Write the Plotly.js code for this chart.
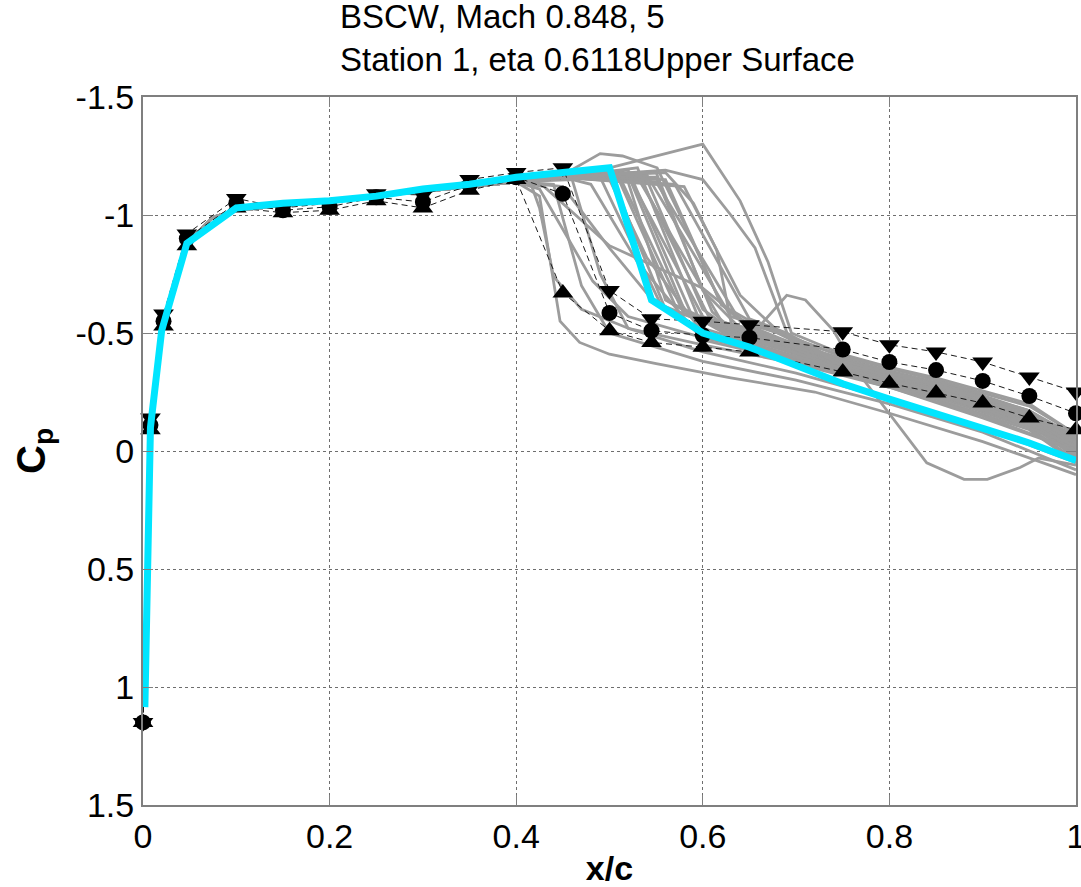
<!DOCTYPE html>
<html>
<head>
<meta charset="utf-8">
<script src="https://cdn.plot.ly/plotly-3.0.1.min.js"></script>
<style>html,body{margin:0;padding:0;background:#fff;}#chart{width:1081px;height:887px;}</style>
</head>
<body>
<div id="chart"></div>
<script>
// ---------- Data ----------
// Experimental transducer locations (x/c)
const expX = [0, 0.008, 0.022, 0.047, 0.1, 0.15, 0.2, 0.25, 0.3, 0.35, 0.4, 0.45, 0.5, 0.545, 0.6, 0.65, 0.75, 0.8, 0.85, 0.9, 0.95, 1.0];
// Experimental Cp: min (down triangles), mean (circles), max (up triangles)
const expMin  = [1.15, -0.14, -0.58, -0.92, -1.07, -1.03, -1.05, -1.09, -1.085, -1.15, -1.18, -1.20, -0.68, -0.56, -0.55, -0.535, -0.505, -0.45, -0.42, -0.377, -0.314, -0.25];
const expMean = [1.15, -0.11, -0.55, -0.90, -1.05, -1.02, -1.035, -1.075, -1.055, -1.127, -1.16, -1.09, -0.585, -0.51, -0.49, -0.48, -0.43, -0.377, -0.343, -0.297, -0.233, -0.16];
const expMax  = [1.15, -0.09, -0.53, -0.87, -1.03, -1.01, -1.02, -1.06, -1.03, -1.105, -1.15, -0.67, -0.51, -0.46, -0.44, -0.42, -0.335, -0.287, -0.246, -0.203, -0.14, -0.09];

// Cyan (highlighted) computed solution
const cyanX = [0.002, 0.008, 0.02, 0.047, 0.1, 0.15, 0.2, 0.25, 0.3, 0.35, 0.4, 0.45, 0.5, 0.545, 0.6, 0.65, 0.75, 0.8, 0.85, 0.9, 0.95, 1.0];
const cyanY = [1.085, -0.1, -0.51, -0.88, -1.03, -1.05, -1.06, -1.08, -1.11, -1.13, -1.16, -1.18, -1.20, -0.64, -0.50, -0.44, -0.285, -0.22, -0.16, -0.097, -0.034, 0.04];

// Gray computed solutions: shared leading-edge part
const grayFrontX = [0.002, 0.008, 0.02, 0.047, 0.075, 0.1, 0.15, 0.2, 0.25, 0.3, 0.35, 0.4];
const grayFrontY = [1.08, -0.12, -0.52, -0.88, -0.99, -1.02, -1.04, -1.06, -1.08, -1.10, -1.12, -1.14];

// Gray computed solutions: individual aft parts (x/c, Cp)
const grayTailX = [
  [0.425,0.447,0.468,0.5,0.55,0.63,0.72,0.8,0.9,1.0],
  [0.43,0.5,0.6,0.65,0.7,0.8,0.9,1.0],
  [0.415,0.425,0.44,0.47,0.52,0.6,0.7,0.8,0.9,1.0],
  [0.425,0.482,0.52,0.6,0.7,0.8,0.9,1.0],
  [0.45,0.5,0.55,0.6,0.7,0.8,0.9,1.0],
  [0.44,0.47,0.5,0.6,0.7,0.8,0.9,1.0],
  [0.46,0.49,0.52,0.6,0.7,0.8,0.9,1.0],
  [0.45,0.49,0.514,0.551,0.583,0.62,0.65,0.75,0.85,0.95,1.0],
  [0.45,0.5,0.6,0.64,0.67,0.695,0.75,0.85,0.95,1.0],
  [0.45,0.56,0.6,0.63,0.656,0.697,0.75,0.85,0.95,1.0],
  [0.45,0.56,0.59,0.615,0.632,0.7,0.8,0.9,1.0],
  [0.45,0.52,0.58,0.65,0.69,0.71,0.74,0.765,0.8,0.84,0.88,0.905,0.94,0.96,1.0],
  [0.45,0.50,0.56,0.65,0.75,0.85,0.95,1.0],
  [0.45,0.51,0.58,0.65,0.75,0.85,0.95,1.0],
  [0.45,0.52,0.60,0.66,0.75,0.85,0.95,1.0],
  [0.45,0.52,0.59,0.65,0.75,0.85,0.95,1.0],
  [0.45,0.53,0.62,0.67,0.75,0.85,0.95,1.0],
  [0.45,0.53,0.61,0.65,0.75,0.85,0.95,1.0],
  [0.45,0.54,0.60,0.65,0.75,0.85,0.95,1.0],
  [0.45,0.54,0.63,0.67,0.75,0.85,0.95,1.0],
  [0.45,0.55,0.61,0.65,0.75,0.85,0.95,1.0],
  [0.45,0.55,0.64,0.68,0.75,0.85,0.95,1.0],
  [0.45,0.56,0.62,0.66,0.75,0.85,0.95,1.0],
  [0.45,0.57,0.65,0.69,0.75,0.85,0.95,1.0],
  [0.45,0.51,0.57,0.65,0.75,0.85,0.95,1.0],
  [0.45,0.52,0.56,0.65,0.75,0.85,0.95,1.0],
  [0.45,0.49,0.555,0.65,0.75,0.85,0.95,1.0],
  [0.45,0.53,0.60,0.65,0.75,0.85,0.95,1.0],
  [0.45,0.58,0.64,0.68,0.75,0.85,0.95,1.0],
  [0.45,0.55,0.60,0.65,0.75,0.85,0.95,1.0],
  [0.45,0.50,0.54,0.60,0.70,0.80,0.90,1.0],
  [0.45,0.48,0.53,0.60,0.70,0.80,0.90,1.0]
];
const grayTailY = [
  [-1.08,-0.55,-0.46,-0.41,-0.37,-0.31,-0.25,-0.16,-0.04,0.10],
  [-1.12,-0.87,-0.69,-0.53,-0.45,-0.33,-0.19,-0.04],
  [-1.14,-1.03,-0.74,-0.60,-0.52,-0.45,-0.37,-0.27,-0.14,0.0],
  [-1.11,-0.72,-0.57,-0.48,-0.39,-0.30,-0.18,-0.03],
  [-1.12,-0.86,-0.62,-0.55,-0.42,-0.31,-0.20,-0.05],
  [-1.13,-0.70,-0.50,-0.38,-0.30,-0.20,-0.08,0.08],
  [-1.15,-0.75,-0.52,-0.42,-0.33,-0.22,-0.10,0.05],
  [-1.17,-1.26,-1.25,-1.20,-0.94,-0.62,-0.52,-0.38,-0.27,-0.15,-0.02],
  [-1.17,-1.20,-1.30,-1.06,-0.80,-0.50,-0.41,-0.30,-0.17,-0.04],
  [-1.16,-1.19,-1.15,-1.00,-0.86,-0.43,-0.37,-0.26,-0.13,-0.01],
  [-1.16,-1.18,-1.05,-0.85,-0.51,-0.43,-0.32,-0.20,-0.04],
  [-1.16,-1.17,-0.60,-0.48,-0.66,-0.64,-0.51,-0.34,-0.16,0.05,0.12,0.12,0.07,0.03,0.06],
  [-1.16,-1.18,-0.60,-0.52,-0.38,-0.28,-0.16,-0.03],
  [-1.16,-1.17,-0.58,-0.50,-0.37,-0.27,-0.15,-0.02],
  [-1.16,-1.17,-0.57,-0.49,-0.36,-0.26,-0.14,-0.01],
  [-1.16,-1.19,-0.56,-0.51,-0.39,-0.29,-0.17,-0.05],
  [-1.16,-1.16,-0.55,-0.48,-0.35,-0.25,-0.13,0.0],
  [-1.16,-1.18,-0.54,-0.50,-0.38,-0.28,-0.17,-0.06],
  [-1.16,-1.15,-0.60,-0.46,-0.34,-0.24,-0.12,0.01],
  [-1.16,-1.17,-0.57,-0.52,-0.40,-0.30,-0.19,-0.07],
  [-1.16,-1.16,-0.59,-0.45,-0.33,-0.23,-0.11,0.02],
  [-1.16,-1.14,-0.55,-0.50,-0.36,-0.26,-0.14,-0.02],
  [-1.16,-1.15,-0.62,-0.53,-0.40,-0.31,-0.20,-0.07],
  [-1.16,-1.13,-0.56,-0.50,-0.37,-0.26,-0.13,0.0],
  [-1.16,-1.15,-0.62,-0.45,-0.34,-0.25,-0.12,0.03],
  [-1.16,-1.14,-0.64,-0.44,-0.33,-0.23,-0.10,0.04],
  [-1.16,-1.16,-0.62,-0.47,-0.35,-0.26,-0.14,0.01],
  [-1.16,-1.20,-0.52,-0.46,-0.33,-0.22,-0.09,0.05],
  [-1.16,-1.12,-0.66,-0.51,-0.36,-0.25,-0.12,0.0],
  [-1.16,-1.18,-0.68,-0.48,-0.35,-0.24,-0.11,0.02],
  [-1.16,-1.15,-0.82,-0.50,-0.40,-0.30,-0.18,-0.02],
  [-1.16,-1.13,-0.80,-0.47,-0.38,-0.27,-0.15,0.0]
];

// Axis ticks
const xTickVals = [0, 0.2, 0.4, 0.6, 0.8, 1];
const xTickText = ['0', '0.2', '0.4', '0.6', '0.8', '1'];
const yTickVals = [-1.5, -1, -0.5, 0, 0.5, 1, 1.5];
const yTickText = ['-1.5', '-1', '-0.5', '0', '0.5', '1', '1.5'];

const titleLines = ['BSCW, Mach 0.848, 5', 'Station 1, eta 0.6118Upper Surface'];

// ---------- Traces ----------
const traces = [];
for (let i = 0; i < grayTailX.length; i++) {
  traces.push({
    type: 'scatter', mode: 'lines',
    x: grayFrontX.concat(grayTailX[i]),
    y: grayFrontY.concat(grayTailY[i]),
    line: {color: '#9c9c9c', width: 2.8},
    hoverinfo: 'skip'
  });
}
const expStyle = (sym, size) => ({
  type: 'scatter', mode: 'lines+markers', x: expX, cliponaxis: false,
  line: {color: '#1a1a1a', width: 1, dash: '6px,4px'},
  marker: {symbol: sym, size: size, color: '#000000', line: {width: 0}}
});
traces.push(Object.assign(expStyle('triangle-down', 18), {y: expMin, name: 'min'}));
traces.push(Object.assign(expStyle('circle', 16), {y: expMean, name: 'mean'}));
traces.push(Object.assign(expStyle('triangle-up', 18), {y: expMax, name: 'max'}));
traces.push({
  type: 'scatter', mode: 'lines', x: cyanX, y: cyanY,
  line: {color: '#00e5ff', width: 7}, name: 'computed'
});

const FONT = 'Liberation Sans, Arial, Helvetica, sans-serif';
const axisCommon = {
  showline: true, linecolor: '#7f7f7f', linewidth: 2, mirror: 'ticks',
  ticks: 'inside', ticklen: 10, tickwidth: 1, tickcolor: '#7f7f7f',
  showgrid: true, gridcolor: '#6e6e6e', gridwidth: 1, griddash: 'dot',
  zeroline: false, tickfont: {family: FONT, size: 34, color: '#000'},
  tickmode: 'array', fixedrange: true, ticklabeloverflow: 'allow'
};

const layout = {
  width: 1081, height: 887,
  margin: {l: 143, r: 5, t: 97, b: 82},
  paper_bgcolor: '#ffffff', plot_bgcolor: '#ffffff',
  showlegend: false,
  font: {family: FONT, color: '#000'},
  title: {
    text: titleLines.join('<br>'),
    xref: 'container', x: 340 / 1081, xanchor: 'left',
    yref: 'container', y: 1 - 26 / 887, yanchor: 'top', pad: {t: 2},
    font: {family: FONT, size: 33, color: '#000'}
  },
  xaxis: Object.assign({}, axisCommon, {
    range: [0, 1], tickvals: xTickVals, ticktext: xTickText,
    title: {text: '<b>x/c</b>', font: {family: FONT, size: 34, color: '#000'}, standoff: 2}
  }),
  yaxis: Object.assign({}, axisCommon, {
    range: [1.5, -1.5], tickvals: yTickVals, ticktext: yTickText,
    title: {text: '<b>C<sub>p</sub></b>', font: {family: FONT, size: 40, color: '#000'}, standoff: 18}
  })
};

Plotly.newPlot('chart', traces, layout, {displayModeBar: false, staticPlot: true});
</script>
</body>
</html>
